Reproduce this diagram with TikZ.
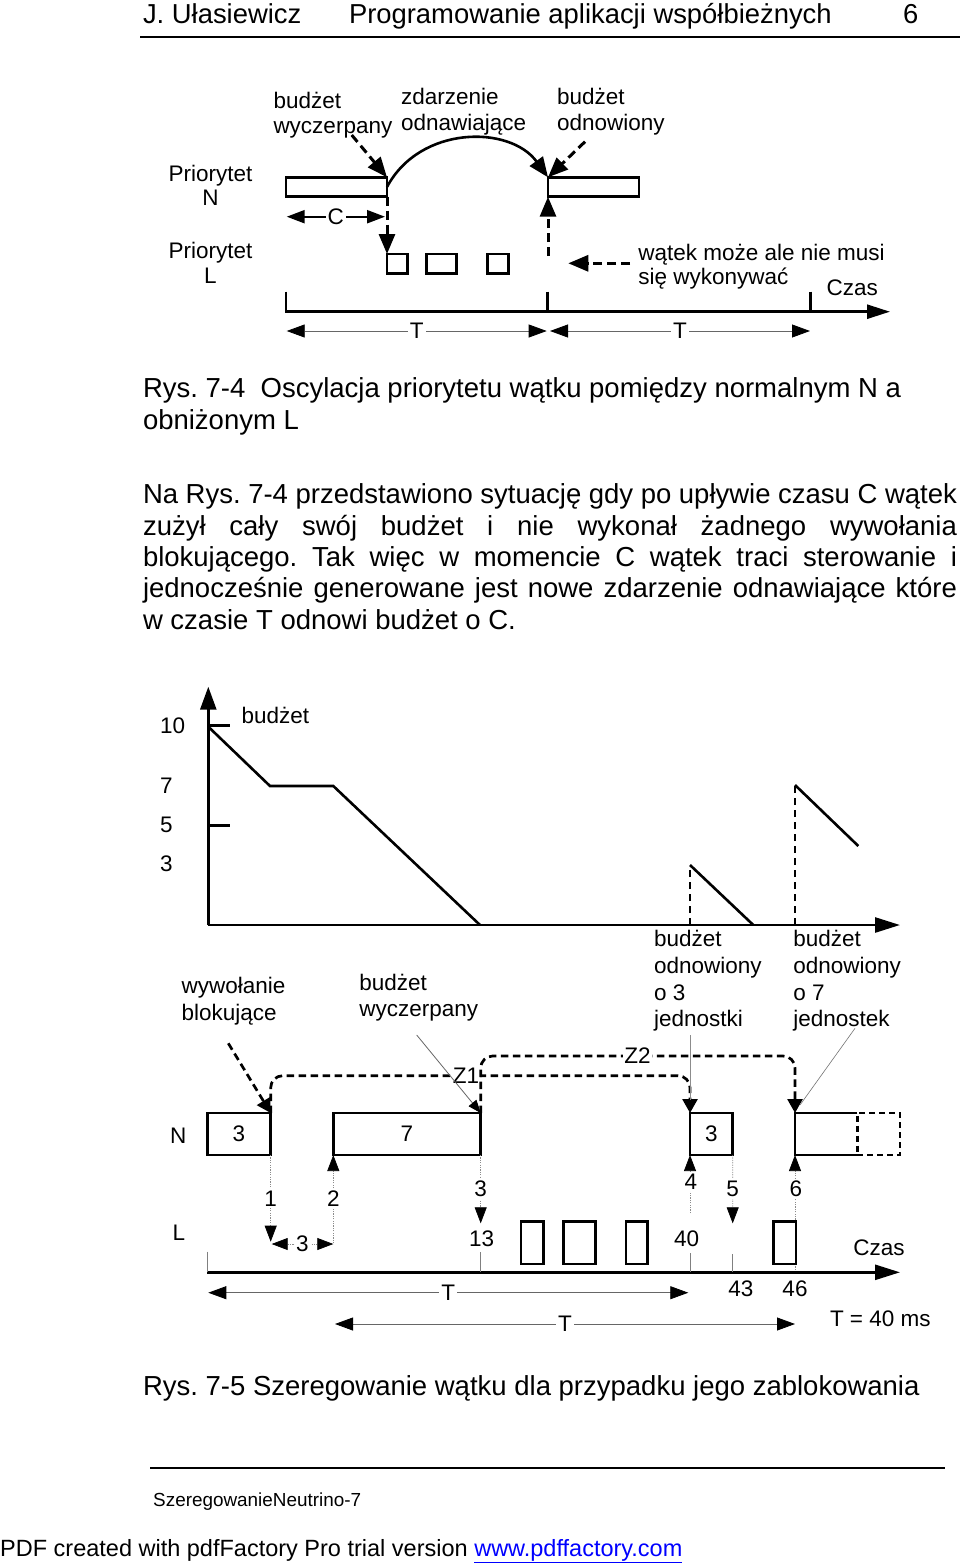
\documentclass[tikz,border=0pt]{standalone}
\usepackage{fontspec}
\setmainfont{Liberation Sans}
\usetikzlibrary{arrows.meta}
\definecolor{lnk}{RGB}{0,0,255}
\frenchspacing
\begin{document}
\begin{tikzpicture}[x=1pt,y=-1pt,
  f22/.style={font=\fontsize{22.5}{27}\selectfont, inner sep=0pt, outer sep=0pt},
  f27/.style={font=\fontsize{27.5}{31.5}\selectfont, inner sep=0pt, outer sep=0pt},
  bw/.style={anchor=base west},
  bc/.style={anchor=base},
  bar/.style={draw, line width=2.6pt, inner sep=0pt, outer sep=0pt, anchor=north west, font=\fontsize{22.5}{27}\selectfont},
  thk/.style={line width=2.6pt},
  dsh/.style={line width=3pt, dash pattern=on 9pt off 5pt},
  dsh2/.style={line width=2.7pt, dash pattern=on 7.5pt off 4.5pt},
  thn/.style={line width=0.8pt, draw=black!60},
  dot/.style={line width=0.7pt, draw=black!45, dash pattern=on 1.2pt off 1.2pt},
  tk/.style={line width=0.7pt, draw=black!50},
  hA/.style={-{Triangle[length=20pt,width=16pt,color=black]}},
  hAA/.style={{Triangle[length=18pt,width=13pt,color=black]}-{Triangle[length=18pt,width=13pt,color=black]}},
  hS/.style={-{Triangle[length=16pt,width=12pt,color=black]}},
  hSS/.style={{Triangle[length=16pt,width=12pt,color=black]}-{Triangle[length=16pt,width=12pt,color=black]}},
  hZ/.style={-{Triangle[length=14pt,width=15pt,color=black]}},
  hT/.style={-{Triangle[length=13pt,width=10pt,color=black]}},
  wb/.style={fill=white, inner sep=2pt},
]
\useasboundingbox (0,0) rectangle (960,1563);

% ---------- header ----------
\node[f27,bw,font=\fontsize{27.4}{31}\selectfont] (h1) at (143,24) {J. Ułasiewicz};
\node[f27,bw,font=\fontsize{27.4}{31}\selectfont] (h2) at (349,24) {Programowanie aplikacji współbieżnych};
\node[f27,bw,font=\fontsize{27.4}{31}\selectfont] (h3) at (903,24) {6};
\coordinate (hl1) at (140,37);
\coordinate (hl2) at (960,37);
\draw[line width=2pt] (hl1) -- (hl2);

% ---------- top diagram ----------
\node[f22,bw] (lw1) at (273.5,108) {budżet};
\node[f22,bw] (lw2) at (273.5,133) {wyczerpany};
\node[f22,bw] (lz1) at (401,104.5) {zdarzenie};
\node[f22,bw] (lz2) at (401,130) {odnawiające};
\node[f22,bw] (lo1) at (557,104.5) {budżet};
\node[f22,bw] (lo2) at (557,130) {odnowiony};

\node[f22,bc] (pn1) at (210.5,181.7) {Priorytet};
\node[f22,bc] (pn2) at (210.5,205) {N};
\node[f22,bc] (pl1) at (210.5,258.3) {Priorytet};
\node[f22,bc] (pl2) at (210.5,283.3) {L};

\node[bar, minimum width=101pt, minimum height=19.4pt] (bn1) at (286,177.3) {};
\node[bar, minimum width=91pt, minimum height=19.4pt] (bn2) at (548,177.3) {};
\node[bar, minimum width=20.5pt, minimum height=19.3pt] (bl1) at (387,254) {};
\node[bar, minimum width=30pt, minimum height=19.3pt] (bl2) at (426.7,254) {};
\node[bar, minimum width=21pt, minimum height=19.3pt] (bl3) at (487.3,254) {};

\coordinate (aw) at (351.7,135);
\draw[dsh,hA] (aw) -- (bn1.north east);
\draw[thk,hA] (bn1.east) .. controls (420,125) and (510,125) .. (bn2.north west);
\coordinate (ao) at (585,141.7);
\draw[dsh,hA] (ao) -- (bn2.north west);

\coordinate (c1) at (286.7,216.7);
\coordinate (c2) at (385,216.7);
\draw[line width=2.2pt,hAA] (c1) -- node[f22,wb] (cl) {C} (c2);

\draw[dsh,hA] (bn1.south east) -- (bl1.north west);
\coordinate (u1) at (548,256);
\draw[dsh,hA] (u1) -- (bn2.south west);

\coordinate (wt) at (630,263.3);
\coordinate (wh) at (568.3,263.3);
\draw[dsh,hA] (wt) -- (wh);
\node[f22,bw] (wm1) at (638.3,260) {wątek może ale nie musi};
\node[f22,bw] (wm2) at (638.3,284) {się wykonywać};
\node[f22,bw] (cz1) at (826.7,295) {Czas};

\coordinate (tt0) at (286,291.7);
\coordinate (ax0) at (286,311.7);
\coordinate (ax1) at (890,311.7);
\draw[thk,-{Triangle[length=23pt,width=14pt]}] (tt0) -- (ax0) -- (ax1);
\coordinate (tt1) at (547.7,291.7);
\coordinate (tt1b) at (547.7,311.7);
\draw[thk] (tt1) -- (tt1b);
\coordinate (tt2) at (810.7,291.7);
\coordinate (tt2b) at (810.7,311.7);
\draw[thk] (tt2) -- (tt2b);

\coordinate (d1a) at (286.7,331);
\coordinate (d1b) at (546.7,331);
\coordinate (d2a) at (550,331);
\coordinate (d2b) at (810,331);
\draw[thn,hAA] (d1a) -- node[f22,wb] (dT1) {T} (d1b);
\draw[thn,hAA] (d2a) -- node[f22,wb] (dT2) {T} (d2b);

% ---------- captions and text ----------
\node[f27,bw] (cap1) at (143,397) {Rys. 7-4\ \ Oscylacja priorytetu wątku pomiędzy normalnym N a};
\node[f27,bw] (cap1b) at (143,429) {obniżonym L};

\node[f27,bw] (p1) at (143,503) {\makebox[814pt][s]{Na Rys. 7-4 przedstawiono sytuację gdy po upływie czasu C wątek}};
\node[f27,bw] (p2) at (143,535) {\makebox[814pt][s]{zużył cały swój budżet i nie wykonał żadnego wywołania}};
\node[f27,bw] (p3) at (143,566) {\makebox[814pt][s]{blokującego. Tak więc w momencie C wątek traci sterowanie i}};
\node[f27,bw] (p4) at (143,597) {\makebox[814pt][s]{jednocześnie generowane jest nowe zdarzenie odnawiające które}};
\node[f27,bw] (p5) at (143,629) {w czasie T odnowi budżet o C.};

% ---------- budget graph ----------
\coordinate (go) at (208.3,925);
\coordinate (gy) at (208.3,686.7);
\coordinate (gx) at (900,925);
\draw[thk,-{Triangle[length=23pt,width=16pt]}] (go) -- (gy);
\draw[thk,-{Triangle[length=25pt,width=15pt]}] (go) -- (gx);
\coordinate (k10a) at (208.3,725.7);
\coordinate (k10b) at (230,725.7);
\coordinate (k5a) at (208.3,825.7);
\coordinate (k5b) at (230,825.7);
\draw[thk] (k10a) -- (k10b);
\draw[thk] (k5a) -- (k5b);
\node[f22,bw] (y10) at (160,733.3) {10};
\node[f22,bw] (y7) at (160,793.3) {7};
\node[f22,bw] (y5) at (160,832.7) {5};
\node[f22,bw] (y3) at (160,871.7) {3};
\node[f22,bw] (ybud) at (241.7,723.3) {budżet};
\coordinate (g1) at (208.3,726.7);
\coordinate (g2) at (270,786);
\coordinate (g3) at (333.3,786);
\coordinate (g4) at (480,925);
\draw[thk] (g1) -- (g2) -- (g3) -- (g4);
\coordinate (s1a) at (690,925);
\coordinate (s1b) at (690,865);
\coordinate (s1c) at (753.3,925);
\draw[dsh2] (s1a) -- (s1b);
\draw[thk] (s1b) -- (s1c);
\coordinate (s2a) at (795,925);
\coordinate (s2b) at (795,785);
\coordinate (s2c) at (858.3,846);
\draw[dsh2] (s2a) -- (s2b);
\draw[thk] (s2b) -- (s2c);

% ---------- bottom timing diagram ----------
\node[f22,bw] (wb1) at (181.7,993.3) {wywołanie};
\node[f22,bw] (wb2) at (181.7,1020) {blokujące};
\node[f22,bw] (bw1) at (359.3,990) {budżet};
\node[f22,bw] (bw2) at (359.3,1016) {wyczerpany};
\node[f22,bw] (r31) at (654,946.7) {budżet};
\node[f22,bw] (r32) at (654,973.3) {odnowiony};
\node[f22,bw] (r33) at (654,1000) {o 3};
\node[f22,bw] (r34) at (654,1026.7) {jednostki};
\node[f22,bw] (r71) at (793.3,946.7) {budżet};
\node[f22,bw] (r72) at (793.3,973.3) {odnowiony};
\node[f22,bw] (r73) at (793.3,1000) {o 7};
\node[f22,bw] (r74) at (793.3,1026.7) {jednostek};

\node[f22,bc] (nN) at (178.3,1143.3) {N};
\node[f22,bc] (nL) at (179,1240) {L};

\node[bar, minimum width=63.4pt, minimum height=42pt] (b1) at (207.3,1113) {3};
\node[bar, minimum width=147.4pt, minimum height=42pt] (b2) at (333.3,1113) {7};
\node[bar, minimum width=42.7pt, minimum height=42pt] (b3) at (690,1113) {3};
\node[inner sep=0pt, outer sep=0pt, anchor=north west, minimum width=62.3pt, minimum height=42pt] (b4) at (795,1113) {};
\draw[thk] (b4.north east) -- (b4.north west) -- (b4.south west) -- (b4.south east);
\node[draw, dash pattern=on 6pt off 4pt, line width=2.4pt, inner sep=0pt, outer sep=0pt, anchor=north west, minimum width=42.7pt, minimum height=42pt] (b4x) at (857.3,1113) {};

% annotation arrows
\coordinate (wbt) at (228.3,1043.3);
\draw[dsh2,hZ] (wbt) -- (b1.north east);

\coordinate (zy1) at (0,1075.7);
\coordinate (zy2) at (0,1056);
\draw[dsh2,hZ,rounded corners=12pt] (b1.north east) -- (b1.north east |- zy1) -- (b3.north west |- zy1) -- (b3.north west);
\node[f22,fill=white,inner sep=1pt] (z1) at (466,1075.7) {Z1};
\draw[dsh2,hZ,rounded corners=12pt] (b2.north east) -- (b2.north east |- zy2) -- (b4.north west |- zy2) -- (b4.north west);
\node[f22,fill=white,inner sep=1.5pt] (z2) at (637.5,1056) {Z2};

\coordinate (bwt) at (416.7,1035);
\draw[thn,hT] (bwt) -- (b2.north east);
\coordinate (j3a) at (690,1035);
\coordinate (j3b) at (690,1100);
\draw[line width=0.6pt, draw=black!45] (j3a) -- (j3b);
\coordinate (j7a) at (855,1028.3);
\coordinate (j7b) at (800,1105);
\draw[line width=0.6pt, draw=black!55] (j7a) -- (j7b);

% lower vertical markers
\coordinate (e1) at (270.7,1241.7);
\draw[dot,hS] (b1.south east) -- (e1);
\node[f22,wb] (n1) at (270.7,1198.7) {1};
\coordinate (e2) at (333.3,1243.3);
\draw[dot,hS] (e2) -- (b2.south west);
\node[f22,wb] (n2) at (333.3,1198.7) {2};
\coordinate (e3a) at (271.7,1244);
\coordinate (e3b) at (333.3,1244);
\draw[dot,hSS] (e3a) -- node[f22,wb,inner sep=1pt] (n3d) {3} (e3b);

\coordinate (e4) at (480.7,1223.3);
\draw[dot,hS] (b2.south east) -- (e4);
\node[f22,wb] (n3) at (480.7,1188.7) {3};
\node[f22,bc] (n13) at (481.7,1246.7) {13};

\coordinate (e5) at (690,1213);
\draw[dot,hS] (e5) -- (b3.south west);
\node[f22,wb] (n4) at (690.8,1181.3) {4};
\node[f22,bc] (n40) at (686.7,1246.7) {40};

\coordinate (e6) at (732.7,1223.3);
\draw[dot,hS] (b3.south east) -- (e6);
\node[f22,wb] (n5) at (732.5,1188.7) {5};
\node[f22,bc] (n43) at (740.8,1296.7) {43};

\coordinate (e7) at (795,1272.3);
\draw[dot,hS] (e7) -- (b4.south west);
\node[f22,wb] (n6) at (795.8,1188.7) {6};
\node[f22,bc] (n46) at (795,1296.7) {46};

% L boxes
\node[bar, minimum width=22.3pt, minimum height=42.3pt] (lb1) at (521,1221.7) {};
\node[bar, minimum width=32.4pt, minimum height=42.3pt] (lb2) at (563.3,1221.7) {};
\node[bar, minimum width=21.7pt, minimum height=42.3pt] (lb3) at (626,1221.7) {};
\node[bar, minimum width=22.7pt, minimum height=42.3pt] (lb4) at (773.3,1221.7) {};

% time axis and ticks
\coordinate (ta0) at (207.3,1272.3);
\coordinate (ta1) at (900,1272.3);
\draw[thk,-{Triangle[length=25pt,width=15pt]}] (ta0) -- (ta1);
\coordinate (tk0) at (207.3,1251.7);
\draw[tk] (tk0) -- (ta0);
\coordinate (tk1a) at (480.7,1252);
\coordinate (tk1b) at (480.7,1272);
\draw[tk] (tk1a) -- (tk1b);
\coordinate (tk2a) at (690,1253);
\coordinate (tk2b) at (690,1272);
\draw[tk] (tk2a) -- (tk2b);
\coordinate (tk3a) at (732.7,1254);
\coordinate (tk3b) at (732.7,1272);
\draw[tk] (tk3a) -- (tk3b);

\node[f22,bw] (cz2) at (853.3,1255) {Czas};

\coordinate (T1a) at (208.3,1292.7);
\coordinate (T1b) at (688.3,1292.7);
\draw[thn,hAA] (T1a) -- node[f22,wb] (T1) {T} (T1b);
\coordinate (T2a) at (335,1324);
\coordinate (T2b) at (795,1324);
\draw[thn,hAA] (T2a) -- node[f22,wb] (T2) {T} (T2b);
\node[f22,bw] (t40) at (830,1326.7) {T = 40 ms};

\node[f27,bw] (cap2) at (143,1395) {Rys. 7-5 Szeregowanie wątku dla przypadku jego zablokowania};

% ---------- footer ----------
\coordinate (fl1) at (150,1468);
\coordinate (fl2) at (945,1468);
\draw[line width=1.5pt] (fl1) -- (fl2);
\node[bw,inner sep=0pt,font=\fontsize{18.9}{22}\selectfont] (ft1) at (153,1506) {SzeregowanieNeutrino-7};
\node[bw,inner sep=0pt,font=\fontsize{23.5}{27}\selectfont] (ft2) at (0,1556) {PDF created with pdfFactory Pro trial version {\color{lnk}\underline{www.pdffactory.com}}};
\end{tikzpicture}
\end{document}
